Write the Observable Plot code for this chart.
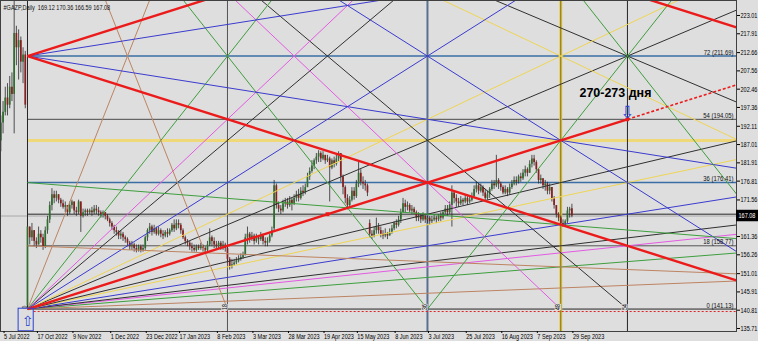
<!DOCTYPE html>
<html><head><meta charset="utf-8">
<script src="https://cdn.jsdelivr.net/npm/d3@7"></script>
<script src="https://cdn.jsdelivr.net/npm/@observablehq/plot@0.6"></script>
<style>html,body{margin:0;padding:0;background:#dedede;} svg{display:block;}</style>
</head><body><div id="chart"></div>
<script>
// ---------------- DATA ----------------
const symbolTitle = "#GAZP,Daily";
const lastOHLC = [169.12, 170.36, 166.59, 167.08];
const bidPrice = 167.08;
const firstBar = -12;
const opens = [188,193,196,200,198,203,201,218,214,216,210,212,
142,
164,161,163,160,159,162,161,158.5,163,166,
170,173,172,173,171.5,170.5,169.5,170,168,170,
171,168.5,168,171,167,168,168.5,168,168.5,168,
169,168.5,168,167.5,168,167,166,165,164,163,
162.5,161.5,162,161,160.5,159.5,158.5,159,158,157.5,
158.5,157.5,158,161,163,164,162.5,163.5,162,163,
162,161.5,162.5,162,163,164.5,163.5,165,164.5,163,
161,160,159.5,158.5,158,157.5,158.5,158,158.5,158,
157.5,159,161,160,159,158.5,159.5,158.5,159,158,
155,153,153.5,154,154.5,155,155.5,156,161,162,
160.5,161.5,160,161,160.5,161.5,160,159.5,160,161.5,
163.5,175.5,170,169,168.5,170.5,171,170,171.5,170.5,
172,173,172,174,173.5,175,178,179.5,181,182.5,
183.5,184.5,183,184,182.5,183,180.5,182.5,181.5,183,
184.5,178,175,172,170,171.5,174,172.5,176,179,
176.5,176,175.5,165,162,161.5,163,164,163,162,
161.5,162,161.5,162.5,163.5,165,164.5,166,168,170.5,
169.5,170,168.5,169,168,166.5,167,166,167,166,
166.5,165.5,166,166.5,166,167,166.5,168,169,168,
170,173.5,172,171,170.5,171.5,171,172,171,171.5,
172.5,174.5,175.5,174,175,173.5,172,173,174.5,176,
175.5,177,176,175,173.5,174.5,173.5,175,176,177,
176.5,178,177.5,179,180,179,181.5,183,182,180,
177,177.5,175.5,176,174,175,172,170,167.5,166.5,
165,164.5,165.5,168.5,169.12];
const highs = [195,199,203,204,206,207,228,220,219,217,214,213,
165,
164,165,163,161,164,163,162,164,167,171,
174.7,174,174,173,172,171.5,171,170,171,171.5,
171,169.5,171.5,171,169,169,169,169,169.5,170,
170,169.5,168.5,168.5,168,167.5,166.5,165.5,164.5,164,
163,163,162.5,161.5,161,160,160,159.5,159,159,
159,159,161.5,163.5,165,164.5,164.5,164,164,163.5,
163,163,163.5,163.5,165,166,166,166,165,163.5,
161.5,160.5,160,159.5,159,159,159,159.5,159,158.5,
160,163.5,161.5,161,160,160,160,160,159.5,158.5,
155.5,155,155,155.5,156,156.5,157,162,164,162.5,
162.5,162,162,161.5,162.5,162,161,161,162,164,
177,176,171,170,171.5,172,172,172.5,172,173,
174,174.5,175,175.5,176,179,180.5,182.5,183,184.5,
185.3,185,185,184,184,183.5,183,183.5,184,185,
184.5,178.5,175.5,173,172.5,175,175,177,182.5,180,
178,177,176,166,163,164,166.5,165,164,163,
163.5,162.5,163.5,164.5,165.5,166,167,169,172,171.5,
171,170.5,170,169.5,168.5,168,167.5,168,167.5,167,
167,167,167.5,167,167.5,168,168.5,170,170,171,
175.5,174,173,172,172.5,172,173,172.5,172.5,173.5,
175.5,176.5,176,176,175.5,174.5,174,175,177,177,
184,177.5,176.5,175.5,175.5,175,176,177,178,178,
178.5,179,180,181,180.5,182.5,184,184,182.5,180,
178.5,177.5,177,176.5,176,175,172.5,170,168,167,
166,166,169.5,169.5,170.36];
const lows = [185,190,195,195,197,199,190,209,205,207,204,197,
141.13,
159,160,158.5,158,159,159.5,157.5,158,162,165,
168.5,170.5,171,170.5,169.5,169,168,167,167.5,169,
167.5,167,167.5,162.5,166.5,167,167,167.5,167,167.5,
167.5,167,166.5,166.5,166,165.5,164,163,162,161.5,
160.5,160.5,160,159.5,158.5,157.5,157.5,157,156.8,157,
156.8,157,157.5,160,162,161.5,162,161.5,161.5,161,
160.5,161,161,161.5,162.5,162.5,163,163.5,162,160.5,
159,158.5,157.5,157,157,157,157.5,157.5,157,156.5,
157,158.5,158.5,158,157.5,158,157.5,157.5,157,154,
152,152.3,153,153.5,154,154.5,155,156,159,159.5,
160,159,159.5,159,160,159,158.5,158.5,159.5,161,
163,169,168,167.5,168,169.5,169,169.5,168.5,170,
171,171,171.5,172.5,173,175,177,179,180,181.5,
182,182,182.5,181.5,182,171,180,180.5,181,182,
176.5,173,170.5,168.8,169.5,171,171.5,172,175,175.5,
174.5,174,172.5,161,160.5,161,162,162,161,160.5,
161,160.5,161.5,162,163,163.5,164,165,168,168,
168.5,168,167.5,167.5,165.5,165.5,165,165.5,165,165,
164.5,165,165.5,165,165.5,165.5,166,167.5,167,167.5,
164,170.5,169.5,169.5,170,170,170.5,170,170.5,171,
172,173.5,173,173.5,172.5,171,171.5,172,174,174.5,
175,174.5,174,173,173,172.5,173,174.5,175.5,175.5,
176,176.5,177,178,178,179,180.5,181,179,176,
176,174.5,174,173,173,171,169,166.5,165.5,164.5,
163.9,164,165,166.5,166.59];
const closes = [193,196,200,198,203,201,218,214,216,210,212,198,
164,
161,163,160,159,162,161,158.5,163,166,170,
173,172,173,171.5,170.5,169.5,170,168,170,171,
168.5,168,171,167,168,168.5,168,168.5,168,169,
168.5,168,167.5,168,167,166,165,164,163,162.5,
161.5,162,161,160.5,159.5,158.5,159,158,157.5,158.5,
157.5,158,161,163,164,162.5,163.5,162,163,162,
161.5,162.5,162,163,164.5,163.5,165,164.5,163,161,
160,159.5,158.5,158,157.5,158.5,158,158.5,158,157.5,
159,161,160,159,158.5,159.5,158.5,159,158,155,
153,153.5,154,154.5,155,155.5,156,161,162,160.5,
161.5,160,161,160.5,161.5,160,159.5,160,161.5,163,
175.5,170,169,168.5,170.5,171,170,171.5,170.5,172,
173,172,174,173.5,175,178,179.5,181,182.5,183.5,
184.5,183,184,182.5,183,180.5,182.5,181.5,183,184.5,
178,175,172,170,171.5,174,172.5,176,179,176.5,
176,175.5,173.5,162,161.5,163,164,163,162,161.5,
162,161.5,162.5,163.5,165,164.5,166,168,170.5,169.5,
170,168.5,169,168,166.5,167,166,167,166,166.5,
165.5,166,166.5,166,167,166.5,168,169,168,170,
173.5,172,171,170.5,171.5,171,172,171,171.5,172.5,
174.5,175.5,174,175,173.5,172,173,174.5,176,175.5,
177,176,175,173.5,174.5,173.5,175,176,177,176.5,
178,177.5,179,180,179,181.5,183,182,180,177,
177.5,175.5,176,174,175,172,170,167.5,166.5,165,
164.5,165.5,168.5,169,167.08];

const dateLabels = ["5 Jul 2022","17 Oct 2022","9 Nov 2022","1 Dec 2022","23 Dec 2022","17 Jan 2023","8 Feb 2023","3 Mar 2023","28 Mar 2023","19 Apr 2023","15 May 2023","8 Jun 2023","3 Jul 2023","25 Jul 2023","16 Aug 2023","7 Sep 2023","29 Sep 2023"];
const dateBars = [-11,4,20,37,53,68,85,101,117,133,148,165,180,197,213,229,245];
const priceTicks = [223.01,217.91,212.66,207.56,202.46,197.36,192.11,187.01,181.91,176.81,171.56,161.36,156.26,151.01,145.91,140.81,135.71];

// Gann square (origin = low bar 0, price 141.13, 1 unit = 5 bars = 0.98 rub)
const gannLow = 141.13, gannStep = 0.98, gannBarsPerUnit = 5, gannSquare = 72;
const gannLevels = [0, 18, 27, 36, 48, 54, 72];
const gannLabeledLevels = [0, 18, 36, 54, 72];
const gannTimes = [0, 18, 36, 48, 54];
const fanSlopes = [1/8, 1/4, 1/3, 3/8, 1/2, 2/3, 3/4, 1, 4/3, 3/2, 2, 8/3, 3, 4, 8];
const fanToDoubleTimeSlopes = [1/8, 1/4, 1/2];   // lines ending at (144,0)
const fanToSquareTimeSlopes = [1, 4];            // lines ending at (72,0)
const fanFromTopLeftSlopes = [1/2, 1];           // rising from (0,72)
const bounceStart = 36, bounceSlope = 4;         // rising from (36,0)
const targetNode = 54, markerNode = 27;
const targetNote = "270-273 дня";
const lowLinePrice = 140.44;

// ---------------- BUILD ----------------
const candles = closes.map((c, i) => ({b: firstBar + i, o: opens[i], h: highs[i], l: lows[i], c}));
const gx = t => t * gannBarsPerUnit;
const gy = p => gannLow + p * gannStep;
const far = 400;

const palette = {brown:"#bd8462", green:"#3e9e3e", magenta:"#e35ae3", black:"#303030", blue:"#3b3bcf", yellow:"#efd555", red:"#ec1b1b"};
function slopeColor(s) {
  const r = s < 1 ? 1 / s : s;
  const near = v => Math.abs(r - v) < 1e-6;
  if (near(8)) return palette.brown;
  if (near(4)) return palette.green;
  if (near(3)) return palette.magenta;
  if (near(8/3) || near(4/3)) return palette.black;
  if (near(2)) return palette.blue;
  if (near(3/2)) return palette.yellow;
  return palette.red;
}
const thin = [], thick = [], dashed = [];
const add = (arr, t1, p1, t2, p2, s) => arr.push({x1: gx(t1), y1: gy(p1), x2: gx(t2), y2: gy(p2), color: slopeColor(s)});
fanSlopes.forEach(s => {
  if (s === 1) { add(thick, 0, 0, targetNode, targetNode, s); add(dashed, targetNode, targetNode, far, far, s); }
  else add(thin, 0, 0, far, far * s, s);
  const top = 2 * gannSquare;
  add(s === 1 ? thick : thin, 0, top, top / s, 0, s);
});
fanToDoubleTimeSlopes.forEach(s => add(thin, 0, 2 * gannSquare * s, 2 * gannSquare, 0, s));
fanToSquareTimeSlopes.forEach(s => add(s === 1 ? thick : thin, 0, gannSquare * s, gannSquare, 0, s));
fanFromTopLeftSlopes.forEach(s => add(s === 1 ? thick : thin, 0, gannSquare, far, gannSquare + far * s, s));
add(thin, bounceStart, 0, bounceStart + 40, 40 * bounceSlope, bounceSlope);

const levelStyle = {0:["#262626",1],18:["#555",1],27:["#262626",1],36:["#3a6ea5",1.4],48:["#eed878",3],54:["#4a4a4a",1],72:["#3a6ea5",1.4]};
const timeStyle = {0:["#262626",1],18:["#555",1],36:["#5a7090",2],48:["#e6cc55",3],54:["#262626",1]};

const xMin = -12.15, xMax = 319.08;
const yMin = 134.87, yMax = 227.19;
const bg = "#dedede";

const chart = Plot.plot({
  width: 758, height: 341,
  marginTop: 0, marginLeft: 0, marginRight: 22, marginBottom: 10,
  style: {background: bg, fontFamily: "Liberation Sans, Arial, sans-serif", fontSize: "8px", color: "#000", overflow: "visible"},
  x: {domain: [xMin, xMax], axis: null},
  y: {domain: [yMin, yMax], axis: null},
  marks: [
    // bid line
    Plot.ruleY([bidPrice], {stroke: "#a8a8a8", strokeWidth: 1}),
    // Gann horizontal levels and time verticals
    Plot.ruleY(gannLevels, {y: gy, x1: gx(0), x2: xMax, stroke: p => levelStyle[p][0], strokeWidth: p => levelStyle[p][1]}),
    Plot.ruleX(gannTimes, {x: gx, y1: t => t === 0 ? gannLow : yMin, y2: yMax, stroke: t => timeStyle[t][0], strokeWidth: t => timeStyle[t][1]}),
    Plot.ruleX([48], {x: gx, y1: yMin, y2: yMax, stroke: "#7d6c12", strokeWidth: 1}),
    Plot.ruleY([lowLinePrice], {x1: gx(0) + 3, x2: xMax, stroke: "#e02020", strokeWidth: 1, strokeDasharray: "2,2"}),
    // candles
    Plot.ruleX(candles, {x: "b", y1: "l", y2: "h", stroke: "#2a2a2a", strokeWidth: 0.8}),
    Plot.ruleX(candles, {x: "b", y1: "o", y2: "c", stroke: d => d.c >= d.o ? "#2f6e2f" : "#8a1e1e", strokeWidth: 1.7}),
    // Gann fan lines
    Plot.link(thin, {x1: "x1", y1: "y1", x2: "x2", y2: "y2", stroke: "color", strokeWidth: 1, clip: true}),
    Plot.link(thick, {x1: "x1", y1: "y1", x2: "x2", y2: "y2", stroke: "color", strokeWidth: 2.4, clip: true}),
    Plot.link(dashed, {x1: "x1", y1: "y1", x2: "x2", y2: "y2", stroke: "color", strokeWidth: 1.6, strokeDasharray: "3,2", clip: true}),
    // markers
    Plot.dot([markerNode], {x: gx, y: gy, symbol: "square", r: 2.2, fill: "#ec1b1b"}),
    Plot.dot([targetNode], {x: gx, y: gy, r: 2.2, fill: "#ec1b1b"}),
    // level labels
    Plot.text(gannLabeledLevels, {x: xMax, y: gy, text: p => `${p} (${gy(p).toFixed(2)})`, textAnchor: "end", dx: -3, dy: -4, fontSize: 8, fill: "#111"}),
    Plot.dot(gannTimes.filter(t => t > 0), {x: gx, y: gannLow, dx: -3, dy: -2, symbol: "square", r: 3.6, fill: bg, stroke: "none"}),
    Plot.text(gannTimes, {x: gx, y: gannLow, text: t => String(t), rotate: -90, dx: -3, dy: -2, fontSize: 7, fill: "#111"}),
    // annotations
    Plot.text([targetNote], {x: gx(targetNode), y: gy(targetNode), dx: -12, dy: -26, fontWeight: "bold", fontSize: 13, fill: "#000"}),
    Plot.text(["⇩"], {x: gx(targetNode), y: gy(targetNode), dy: -7, fontSize: 17, fill: "#2b3ed6", fontFamily: "DejaVu Sans"}),
    Plot.rect([0], {x1: d => d - 4, x2: d => d + 2.8, y1: gannLow - 6.2, y2: gannLow + 0.1, stroke: "#2b3ed6", fill: "none", strokeWidth: 1}),
    Plot.text(["⇧"], {x: 0, y: gannLow - 3.4, fontSize: 14, fill: "#2b3ed6", fontFamily: "DejaVu Sans"}),
    // title
    Plot.text([`${symbolTitle}  ${lastOHLC.map(v => v.toFixed(2)).join(" ")}`], {frameAnchor: "top-left", dx: 3, dy: 4, fontSize: 7.5, fill: "#111"}),
    // frame and axes
    Plot.frame({stroke: "#404040"}),
    Plot.axisY(priceTicks, {anchor: "right", tickSize: 3, tickPadding: 1, tickFormat: d => d.toFixed(2), fontSize: 7.5}),
    Plot.axisX(dateBars, {anchor: "bottom", tickSize: 2, tickPadding: 0, tickFormat: d => dateLabels[dateBars.indexOf(d)], textAnchor: "start", dx: 1, fontSize: 7.5}),
    // bid label
    Plot.rect([bidPrice], {x1: xMax, x2: xMax + 9.9, y1: d => d - 1.6, y2: d => d + 1.6, fill: "#000"}),
    Plot.text([bidPrice], {x: xMax, y: d => d, text: d => d.toFixed(2), textAnchor: "start", dx: 2, fill: "#fff", fontSize: 7.5})
  ]
});
document.getElementById("chart").appendChild(chart);

// horizontally condense small texts (the reference is a horizontally squeezed screenshot)
chart.querySelectorAll("text").forEach(el => {
  const txt = el.textContent;
  if (/[⇧⇩]/.test(txt)) return;
  let k = 0.74;
  if (txt === targetNote) k = 72 / el.getComputedTextLength();
  const tr = el.getAttribute("transform");
  if (tr) el.setAttribute("transform", `${tr} scale(${k.toFixed(3)},1)`);
  else {
    const x = +el.getAttribute("x") || 0, y = +el.getAttribute("y") || 0;
    el.setAttribute("transform", `translate(${x},${y}) scale(${k.toFixed(3)},1) translate(${-x},${-y})`);
  }
});
</script></body></html>
